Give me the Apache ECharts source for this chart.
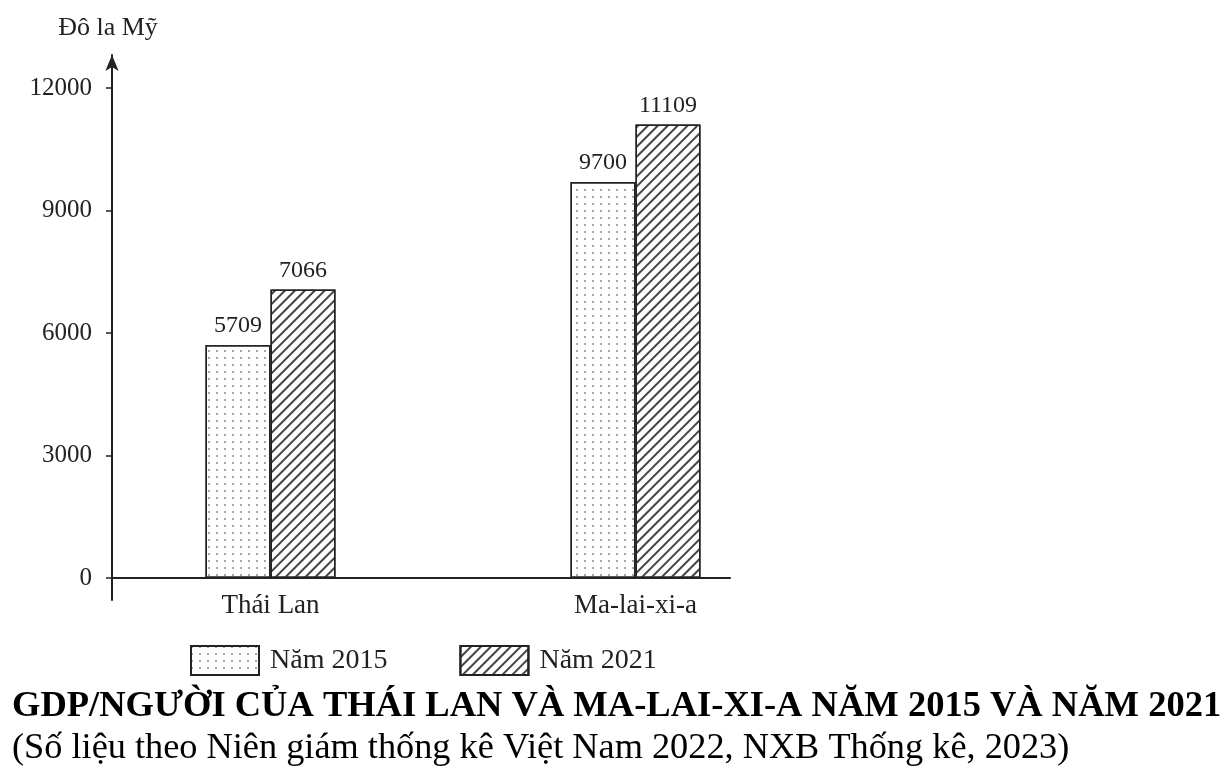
<!DOCTYPE html>
<html><head><meta charset="utf-8">
<script src="https://cdn.jsdelivr.net/npm/echarts@6/dist/echarts.min.js"></script>
<style>html,body{margin:0;padding:0;background:#fff}#c{width:1226px;height:768px}</style>
</head><body><div id="c"></div>
<script>
const categories = ['Thái Lan', 'Ma-lai-xi-a'];
const seriesNames = ['Năm 2015', 'Năm 2021'];
const values2015 = [5709, 9700];
const values2021 = [7066, 11109];
const yTicks = { min: 0, max: 12000, interval: 3000 };
const unitLabel = 'Đô la Mỹ';
const titleText = 'GDP/NGƯỜI CỦA THÁI LAN VÀ MA-LAI-XI-A NĂM 2015 VÀ NĂM 2021';
const subText = '(Số liệu theo Niên giám thống kê Việt Nam 2022, NXB Thống kê, 2023)';

const FONT = '"Liberation Serif", "Times New Roman", serif';
const chart = echarts.init(document.getElementById('c'));
const dotDecal = { symbol: 'circle', symbolSize: 1, dashArrayX: [2, 6], dashArrayY: [2, 5], color: '#888' };
const hatchDecal = { symbol: 'rect', symbolSize: 1, dashArrayX: [1, 0], dashArrayY: [1.5, 4.5], rotation: -Math.PI / 4, color: '#444' };

const labelStyle = { show: true, position: 'top', distance: 7, fontFamily: FONT, fontSize: 24, color: '#222' };

chart.setOption({
  backgroundColor: '#fff',
  animation: false,
  title: {
    left: 7, top: 684, text: titleText, subtext: subText, itemGap: 4,
    textStyle: { fontFamily: FONT, fontSize: 36.5, fontWeight: 'bold', color: '#000', lineHeight: 36 },
    subtextStyle: { fontFamily: FONT, fontSize: 36.3, color: '#000', lineHeight: 36 }
  },
  legend: {
    left: 185, top: 640, itemWidth: 68, itemHeight: 29, itemGap: 72, icon: 'rect',
    data: seriesNames,
    textStyle: { fontFamily: FONT, fontSize: 28, color: '#222', padding: [0, 0, 0, 6] }
  },
  grid: [
    { left: 88, top: 88, width: 730, height: 490 },
    { left: 112, top: 88, width: 618, height: 490 },
    { left: 112, top: 55, width: 618, height: 545 }
  ],
  xAxis: [
    { type: 'category', gridIndex: 0, data: categories,
      axisLine: { show: false }, axisTick: { show: false },
      axisLabel: { margin: 14, fontFamily: FONT, fontSize: 27, color: '#222' } },
    { type: 'value', gridIndex: 1, min: 0, max: 1,
      axisLine: { show: true, lineStyle: { color: '#222', width: 2 } },
      axisTick: { show: false }, axisLabel: { show: false }, splitLine: { show: false } },
    { type: 'value', gridIndex: 2, show: false, min: 0, max: 1 }
  ],
  yAxis: [
    { type: 'value', gridIndex: 0, show: false, min: yTicks.min, max: yTicks.max, interval: yTicks.interval },
    { type: 'value', gridIndex: 1, min: yTicks.min, max: yTicks.max, interval: yTicks.interval,
      axisLine: { show: false }, splitLine: { show: false },
      axisTick: { show: true, length: 6, lineStyle: { color: '#222', width: 1.5 } },
      axisLabel: { margin: 20, fontFamily: FONT, fontSize: 25, color: '#222', formatter: v => String(v) } },
    { type: 'value', gridIndex: 2, min: 0, max: 1, name: unitLabel,
      nameLocation: 'end', nameGap: 14,
      nameTextStyle: { fontFamily: FONT, fontSize: 26, color: '#222', align: 'center', padding: [0, 8, 0, 0] },
      axisLine: { show: true, onZero: false, symbol: ['none', 'arrow'], symbolSize: [10, 16],
        lineStyle: { color: '#222', width: 2 } },
      axisTick: { show: false }, axisLabel: { show: false }, splitLine: { show: false } }
  ],
  series: [
    { name: seriesNames[0], type: 'bar', xAxisIndex: 0, yAxisIndex: 0, data: values2015,
      barWidth: 65, barGap: '0%',
      itemStyle: { color: '#fff', borderColor: '#222', borderWidth: 1.5, decal: dotDecal },
      label: labelStyle },
    { name: seriesNames[1], type: 'bar', xAxisIndex: 0, yAxisIndex: 0, data: values2021,
      barWidth: 65, barGap: '0%',
      itemStyle: { color: '#fff', borderColor: '#222', borderWidth: 1.5, decal: hatchDecal },
      label: labelStyle }
  ]
});
</script></body></html>
